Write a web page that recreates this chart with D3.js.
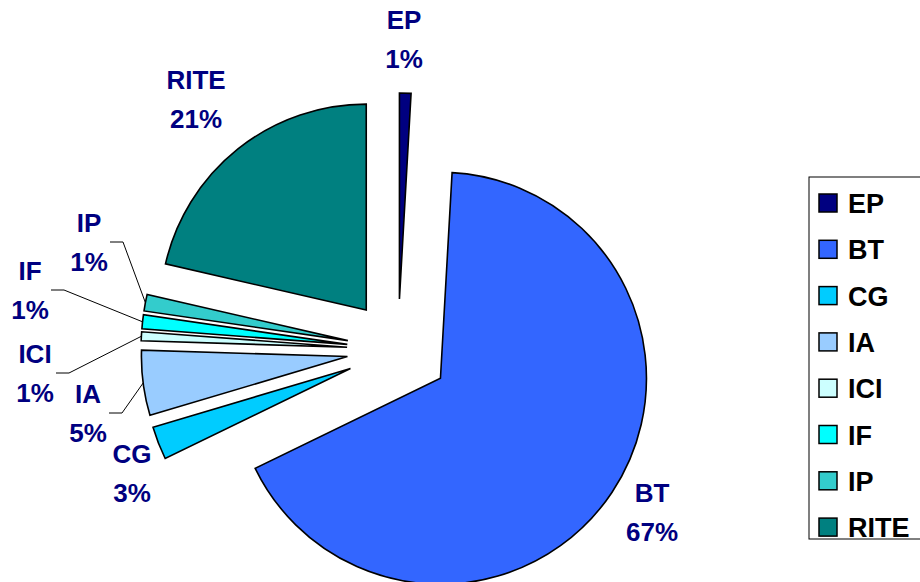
<!DOCTYPE html>
<html>
<head>
<meta charset="utf-8">
<script src="https://cdn.jsdelivr.net/npm/d3@7/dist/d3.min.js"></script>
<style>
  body { margin: 0; background: #fff; }
  text { font-family: "Liberation Sans", Arial, sans-serif; font-weight: bold; }
</style>
</head>
<body>
<script>
var width = 920, height = 582

// data (share of total)
var categories = ["EP", "BT", "CG", "IA", "ICI", "IF", "IP", "RITE"]
var values = [0.9, 66.9, 2.6, 5.1, 0.7, 1.1, 1.3, 21.4]
var colors = ["#000080", "#3366FF", "#00CCFF", "#99CCFF", "#CCFFFF", "#00FFFF", "#33CCCC", "#008080"]

// label anchor (centre x, first baseline) for each category
var labelAt = [[404, 29], [652, 502], [132, 463], [88, 403], [35, 363], [30, 280], [89, 232], [196, 89]]
// which labels get a leader line
var leader = ["IA", "ICI", "IF", "IP"]

var cx = 398, cy = 350, radius = 206, explode = 51

var svg = d3.select("body").append("svg")
  .attr("width", width)
  .attr("height", height)

var pie = d3.pie().sort(null).value(function(d) { return d.value })
var arc = d3.arc().innerRadius(0).outerRadius(radius)

var data = categories.map(function(c, i) { return { name: c, value: values[i], color: colors[i] } })
var arcs = pie(data)

function mid(d) { return (d.startAngle + d.endAngle) / 2 }

//draw the exploded slices
var g = svg.append("g").attr("transform", "translate(" + cx + "," + cy + ")")

g.selectAll("path")
  .data(arcs)
  .enter().append("path")
  .attr("d", arc)
  .attr("transform", function(d) {
    var a = mid(d)
    return "translate(" + (Math.sin(a) * explode) + "," + (-Math.cos(a) * explode) + ")"
  })
  .attr("fill", function(d) { return d.data.color })
  .attr("stroke", "#000")
  .attr("stroke-width", 1.6)
  .attr("stroke-linejoin", "miter")

//leader lines
arcs.forEach(function(d, i) {
  if (leader.indexOf(d.data.name) < 0) return
  var a = mid(d), r = radius + explode
  var ex = cx + Math.sin(a) * r, ey = cy - Math.cos(a) * r
  var lx = labelAt[i][0] + 21, ly = labelAt[i][1] + 10
  svg.append("polyline")
    .attr("points", [[lx, ly], [lx + 13, ly], [ex, ey]].map(function(p) { return p.join(",") }).join(" "))
    .attr("fill", "none")
    .attr("stroke", "#000")
    .attr("stroke-width", 1)
})

//labels
var labels = svg.append("g")
  .selectAll("text")
  .data(arcs)
  .enter().append("text")
  .attr("text-anchor", "middle")
  .attr("fill", "#000080")
  .style("font-size", "26px")

labels.append("tspan")
  .attr("x", function(d, i) { return labelAt[i][0] })
  .attr("y", function(d, i) { return labelAt[i][1] })
  .text(function(d) { return d.data.name })

labels.append("tspan")
  .attr("x", function(d, i) { return labelAt[i][0] })
  .attr("y", function(d, i) { return labelAt[i][1] + 38.5 })
  .text(function(d) { return Math.round(d.data.value) + "%" })

//legend
var legend = svg.append("g").attr("transform", "translate(809,177)")

legend.append("rect")
  .attr("x", 0).attr("y", 0)
  .attr("width", 140).attr("height", 362)
  .attr("fill", "#fff")
  .attr("stroke", "#000")
  .attr("stroke-width", 1)

var item = legend.selectAll("g.item")
  .data(data)
  .enter().append("g")
  .attr("class", "item")
  .attr("transform", function(d, i) { return "translate(0," + (26 + i * 46.3) + ")" })

item.append("rect")
  .attr("x", 10).attr("y", -9)
  .attr("width", 18).attr("height", 18)
  .attr("fill", function(d) { return d.color })
  .attr("stroke", "#000")
  .attr("stroke-width", 1.5)

item.append("text")
  .attr("x", 39).attr("y", 10)
  .style("font-size", "27px")
  .attr("fill", "#000")
  .text(function(d) { return d.name })
</script>
</body>
</html>
